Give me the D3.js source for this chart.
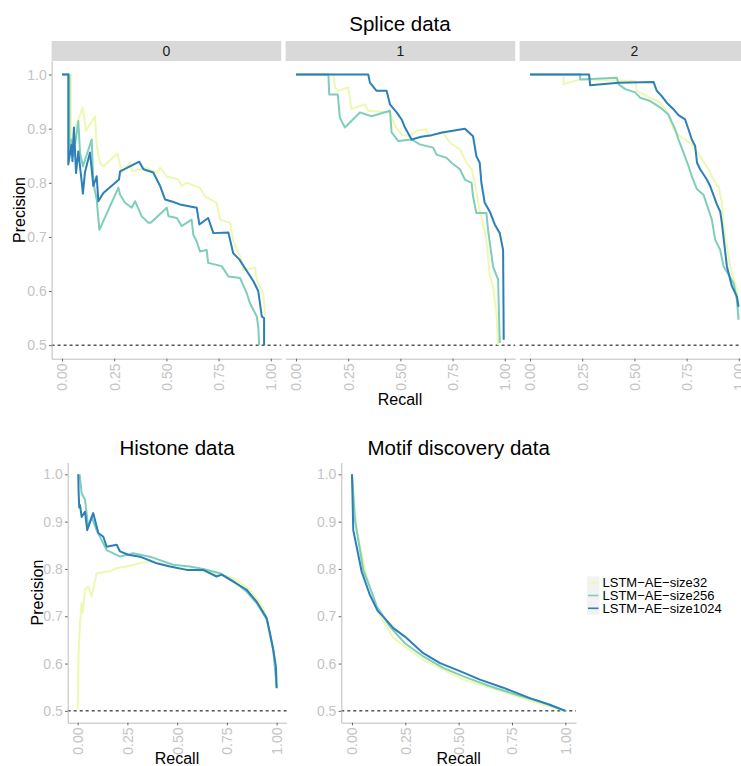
<!DOCTYPE html>
<html>
<head>
<meta charset="utf-8">
<script src="https://cdn.jsdelivr.net/npm/d3@7"></script>
<style>
  body { margin: 0; background: #fff; }
  text { font-family: "Liberation Sans", Arial, sans-serif; }
</style>
</head>
<body>
<svg id="chart"></svg>
<script>
// series / legend
const seriesNames = ["LSTM\u2212AE\u2212size32", "LSTM\u2212AE\u2212size256", "LSTM\u2212AE\u2212size1024"];
const seriesColors = ["#edf8b1", "#7fcdbb", "#2c7fb8"];
const spliceFacets = ["0", "1", "2"];
const xTicks = [0, 0.25, 0.5, 0.75, 1];
const yTicks = [0.5, 0.6, 0.7, 0.8, 0.9, 1.0];

// [recall, precision]
const splice0Size32 = [[0,1],[0.043,1],[0.043,0.88],[0.099,0.939],[0.115,0.896],[0.158,0.923],[0.166,0.868],[0.182,0.837],[0.198,0.83],[0.265,0.854],[0.287,0.818],[0.326,0.837],[0.334,0.821],[0.406,0.828],[0.454,0.818],[0.47,0.828],[0.502,0.812],[0.557,0.806],[0.573,0.794],[0.597,0.8],[0.66,0.791],[0.685,0.775],[0.741,0.763],[0.757,0.732],[0.805,0.726],[0.821,0.692],[0.853,0.664],[0.869,0.639],[0.925,0.643],[0.933,0.621],[0.965,0.593],[0.973,0.553]];
const splice0Size256 = [[0,1],[0.035,1],[0.035,0.86],[0.046,0.88],[0.055,0.85],[0.078,0.914],[0.086,0.856],[0.1,0.83],[0.142,0.88],[0.15,0.8],[0.166,0.769],[0.179,0.713],[0.27,0.791],[0.278,0.778],[0.302,0.763],[0.334,0.754],[0.35,0.766],[0.382,0.738],[0.414,0.726],[0.425,0.726],[0.502,0.754],[0.51,0.738],[0.55,0.735],[0.573,0.72],[0.621,0.732],[0.629,0.704],[0.645,0.692],[0.661,0.673],[0.693,0.676],[0.7,0.652],[0.765,0.646],[0.797,0.627],[0.853,0.624],[0.885,0.596],[0.9,0.578],[0.933,0.553],[0.941,0.531],[0.944,0.5]];
const splice0Size1024 = [[0,1],[0.03,1],[0.03,0.834],[0.045,0.87],[0.05,0.84],[0.057,0.902],[0.067,0.818],[0.078,0.858],[0.094,0.803],[0.1,0.78],[0.11,0.82],[0.134,0.856],[0.15,0.794],[0.166,0.812],[0.174,0.766],[0.198,0.781],[0.273,0.806],[0.278,0.821],[0.37,0.839],[0.39,0.825],[0.437,0.819],[0.47,0.794],[0.494,0.769],[0.53,0.765],[0.565,0.76],[0.645,0.754],[0.658,0.723],[0.7,0.735],[0.725,0.707],[0.797,0.708],[0.82,0.67],[0.85,0.658],[0.917,0.618],[0.94,0.6],[0.957,0.553],[0.968,0.55],[0.968,0.5]];

const splice1Size32 = [[0,1],[0.179,1],[0.187,0.976],[0.2,0.97],[0.25,0.976],[0.266,0.936],[0.33,0.945],[0.346,0.933],[0.45,0.93],[0.474,0.905],[0.506,0.889],[0.545,0.886],[0.577,0.896],[0.625,0.899],[0.633,0.886],[0.705,0.893],[0.737,0.874],[0.785,0.862],[0.817,0.837],[0.841,0.825],[0.856,0.8],[0.88,0.75],[0.912,0.695],[0.928,0.63],[0.944,0.609],[0.96,0.559],[0.968,0.5]];
const splice1Size256 = [[0,1],[0.155,1],[0.159,0.963],[0.2,0.963],[0.21,0.92],[0.234,0.902],[0.306,0.93],[0.362,0.923],[0.45,0.933],[0.458,0.893],[0.49,0.877],[0.554,0.88],[0.593,0.871],[0.657,0.865],[0.673,0.852],[0.721,0.846],[0.745,0.837],[0.785,0.825],[0.809,0.806],[0.841,0.8],[0.848,0.775],[0.864,0.744],[0.912,0.744],[0.92,0.713],[0.944,0.645],[0.968,0.621],[0.976,0.504]];
const splice1Size1024 = [[0,1],[0.346,1],[0.354,0.985],[0.386,0.97],[0.434,0.97],[0.45,0.945],[0.482,0.93],[0.506,0.917],[0.522,0.902],[0.545,0.886],[0.554,0.88],[0.6,0.885],[0.65,0.888],[0.7,0.893],[0.809,0.9],[0.848,0.886],[0.864,0.849],[0.88,0.837],[0.888,0.8],[0.904,0.763],[0.928,0.747],[0.952,0.723],[0.976,0.707],[0.992,0.676],[0.995,0.51]];

const splice2Size32 = [[0,1],[0.16,1],[0.16,0.982],[0.24,0.991],[0.504,0.988],[0.512,0.97],[0.576,0.957],[0.615,0.951],[0.655,0.933],[0.687,0.899],[0.719,0.886],[0.767,0.874],[0.815,0.849],[0.855,0.825],[0.895,0.794],[0.903,0.794],[0.919,0.763],[0.927,0.72],[0.959,0.646],[0.991,0.602],[0.999,0.547]];
const splice2Size256 = [[0,1],[0.24,1],[0.24,0.991],[0.416,0.994],[0.424,0.982],[0.456,0.973],[0.504,0.967],[0.528,0.957],[0.576,0.951],[0.624,0.939],[0.663,0.926],[0.695,0.899],[0.711,0.88],[0.735,0.856],[0.759,0.831],[0.775,0.812],[0.8,0.788],[0.831,0.778],[0.839,0.769],[0.871,0.732],[0.887,0.695],[0.911,0.676],[0.927,0.646],[0.975,0.615],[0.991,0.584],[0.999,0.547]];
const splice2Size1024 = [[0,1],[0.283,1],[0.288,0.98],[0.424,0.985],[0.592,0.986],[0.607,0.97],[0.631,0.96],[0.655,0.948],[0.687,0.936],[0.711,0.925],[0.743,0.917],[0.759,0.899],[0.775,0.88],[0.791,0.868],[0.8,0.837],[0.815,0.825],[0.847,0.806],[0.863,0.794],[0.887,0.769],[0.895,0.76],[0.911,0.747],[0.919,0.726],[0.943,0.646],[0.967,0.609],[0.991,0.59],[0.999,0.571]];

const histoneSize32 = [[0,0.503],[0.005,0.622],[0.012,0.686],[0.02,0.728],[0.025,0.707],[0.037,0.756],[0.053,0.763],[0.07,0.742],[0.095,0.791],[0.162,0.795],[0.196,0.802],[0.246,0.805],[0.313,0.812],[0.363,0.816],[0.414,0.812],[0.497,0.802],[0.581,0.798],[0.681,0.791],[0.782,0.781],[0.866,0.756],[0.933,0.717],[0.983,0.636],[1,0.58],[1,0.548]];
const histoneSize256 = [[0.01,1],[0.02,0.96],[0.037,0.946],[0.053,0.889],[0.07,0.91],[0.095,0.882],[0.146,0.84],[0.213,0.826],[0.279,0.833],[0.363,0.826],[0.48,0.809],[0.564,0.805],[0.631,0.8],[0.715,0.791],[0.782,0.775],[0.849,0.752],[0.899,0.728],[0.95,0.694],[0.983,0.628],[1,0.55]];
const histoneSize1024 = [[0.003,1],[0.005,0.96],[0.008,0.93],[0.012,0.935],[0.02,0.91],[0.037,0.921],[0.048,0.882],[0.078,0.918],[0.104,0.876],[0.129,0.868],[0.146,0.847],[0.196,0.851],[0.213,0.837],[0.254,0.83],[0.313,0.826],[0.397,0.812],[0.464,0.805],[0.548,0.798],[0.631,0.798],[0.698,0.784],[0.724,0.788],[0.782,0.773],[0.849,0.756],[0.899,0.731],[0.95,0.696],[0.966,0.665],[0.983,0.629],[0.996,0.594],[1,0.548]];

const motifSize32 = [[0,1],[0.022,0.882],[0.069,0.784],[0.116,0.714],[0.147,0.69],[0.194,0.654],[0.248,0.636],[0.334,0.608],[0.428,0.587],[0.522,0.566],[0.647,0.549],[0.772,0.531],[0.897,0.513],[1,0.5]];
const motifSize256 = [[0,1],[0.014,0.904],[0.053,0.798],[0.1,0.742],[0.116,0.721],[0.178,0.678],[0.248,0.643],[0.334,0.615],[0.428,0.591],[0.522,0.573],[0.647,0.552],[0.772,0.534],[0.897,0.517],[1,0.5]];
const motifSize1024 = [[0,1],[0.002,0.963],[0.006,0.882],[0.022,0.847],[0.045,0.795],[0.084,0.745],[0.12,0.712],[0.155,0.695],[0.194,0.675],[0.248,0.657],[0.334,0.622],[0.413,0.601],[0.506,0.584],[0.6,0.566],[0.709,0.549],[0.834,0.527],[0.928,0.513],[1,0.5]];

const W = 741, H = 766;
const svg = d3.select("#chart").attr("width", W).attr("height", H);

const tickGray = "#c4c4c4";
const axisGray = "#bdbdbd";

function drawPanel(o) {
  const x = d3.scaleLinear().domain([-0.05, 1.05]).range([o.x0, o.x1]);
  const y = d3.scaleLinear().domain([0.475, 1.025]).range([o.y1, o.y0]);
  const g = svg.append("g");

  g.append("line")
    .attr("x1", o.x0).attr("x2", o.x1)
    .attr("y1", y(0.5)).attr("y2", y(0.5))
    .attr("stroke", "#000").attr("stroke-width", 1)
    .attr("stroke-dasharray", "3,3");

  const line = d3.line().x(d => x(d[0])).y(d => y(d[1]));
  o.curves.forEach((c, i) => {
    g.append("path")
      .datum(c)
      .attr("fill", "none")
      .attr("stroke", seriesColors[i])
      .attr("stroke-width", o.lw)
      .attr("stroke-linejoin", "round")
      .attr("d", line);
  });

  const xa = g.append("g")
    .attr("transform", `translate(0,${o.y1})`)
    .call(d3.axisBottom(x).tickValues(xTicks).tickFormat(d3.format(".2f")).tickSize(2.7).tickSizeOuter(0));
  xa.select(".domain").attr("stroke", axisGray);
  xa.selectAll(".tick line").attr("stroke", "#666");
  xa.selectAll(".tick text")
    .attr("fill", tickGray).attr("font-size", 14)
    .attr("transform", "rotate(-90)")
    .attr("text-anchor", "end")
    .attr("x", -4.8).attr("y", 0).attr("dy", "0.35em");

  if (o.yAxis) {
    const ya = g.append("g")
      .attr("transform", `translate(${o.x0},0)`)
      .call(d3.axisLeft(y).tickValues(yTicks).tickFormat(d3.format(".1f")).tickSize(2.7).tickPadding(2.2).tickSizeOuter(0));
    ya.select(".domain").attr("stroke", axisGray);
    ya.selectAll(".tick line").attr("stroke", "#666");
    ya.selectAll(".tick text").attr("fill", tickGray).attr("font-size", 14);
  }
}

// Splice facets
const spliceCurves = [
  [splice0Size32, splice0Size256, splice0Size1024],
  [splice1Size32, splice1Size256, splice1Size1024],
  [splice2Size32, splice2Size256, splice2Size1024]
];
const facetX = [[51.6, 281.2], [285.6, 515.2], [519.6, 749.2]];
spliceFacets.forEach((f, i) => {
  svg.append("rect")
    .attr("x", facetX[i][0]).attr("y", 41)
    .attr("width", facetX[i][1] - facetX[i][0]).attr("height", 20)
    .attr("fill", "#d9d9d9");
  svg.append("text")
    .attr("x", (facetX[i][0] + facetX[i][1]) / 2).attr("y", 56)
    .attr("text-anchor", "middle").attr("font-size", 14).attr("fill", "#1a1a1a")
    .text(f);
  drawPanel({ x0: facetX[i][0], x1: facetX[i][1], y0: 61, y1: 358.7, curves: spliceCurves[i], yAxis: i === 0, lw: 2 });
});

svg.append("text").attr("x", 400).attr("y", 31).attr("text-anchor", "middle")
  .attr("font-size", 20.5).attr("fill", "#000").text("Splice data");
svg.append("text").attr("x", 400).attr("y", 405).attr("text-anchor", "middle")
  .attr("font-size", 16).text("Recall");
svg.append("text").attr("transform", "translate(24.5,210) rotate(-90)").attr("text-anchor", "middle")
  .attr("font-size", 16).text("Precision");

// Histone
drawPanel({ x0: 67.7, x1: 286.6, y0: 462.5, y1: 722.7, curves: [histoneSize32, histoneSize256, histoneSize1024], yAxis: true, lw: 2 });
svg.append("text").attr("x", 177).attr("y", 454.5).attr("text-anchor", "middle")
  .attr("font-size", 20.5).text("Histone data");
svg.append("text").attr("x", 177).attr("y", 764).attr("text-anchor", "middle")
  .attr("font-size", 16).text("Recall");
svg.append("text").attr("transform", "translate(43,592.6) rotate(-90)").attr("text-anchor", "middle")
  .attr("font-size", 16).text("Precision");

// Motif discovery
drawPanel({ x0: 341.3, x1: 576, y0: 462.5, y1: 722.7, curves: [motifSize32, motifSize256, motifSize1024], yAxis: true, lw: 2 });
svg.append("text").attr("x", 458.7).attr("y", 454.5).attr("text-anchor", "middle")
  .attr("font-size", 20.5).text("Motif discovery data");
svg.append("text").attr("x", 458.7).attr("y", 764).attr("text-anchor", "middle")
  .attr("font-size", 16).text("Recall");

// legend
const legend = svg.append("g").attr("transform", "translate(587,576.3)");
seriesNames.forEach((name, i) => {
  const row = legend.append("g").attr("transform", `translate(0,${i * 12.8})`);
  row.append("rect").attr("width", 12.5).attr("height", 12.8).attr("fill", "#f2f2f2");
  row.append("line").attr("x1", 1).attr("x2", 11.5).attr("y1", 6.4).attr("y2", 6.4)
    .attr("stroke", seriesColors[i]).attr("stroke-width", 1.6);
  row.append("text").attr("x", 15.5).attr("y", 6.4).attr("dy", "0.36em")
    .attr("font-size", 13).text(name);
});
</script>
</body>
</html>
